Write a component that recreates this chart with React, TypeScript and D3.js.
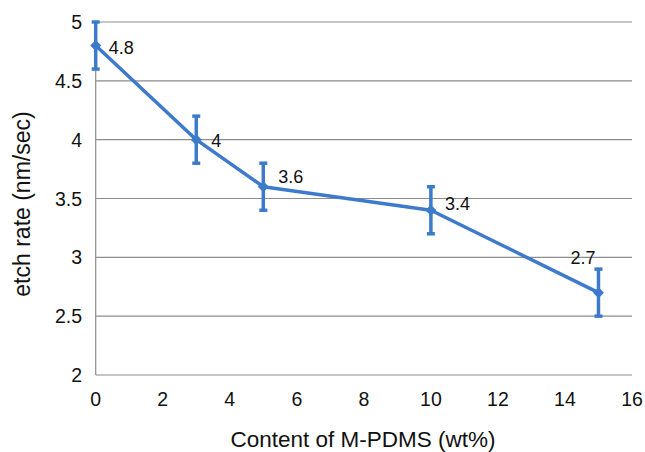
import React from "react";
import * as d3 from "d3";

const xValues = [0, 3, 5, 10, 15];
const yValues = [4.8, 4.0, 3.6, 3.4, 2.7];
const errValues = [0.2, 0.2, 0.2, 0.2, 0.2];
const pointLabels = ["4.8", "4", "3.6", "3.4", "2.7"];
const xTicks = [0, 2, 4, 6, 8, 10, 12, 14, 16];
const yTicks = [2, 2.5, 3, 3.5, 4, 4.5, 5];

const labelOffsets: [number, number][] = [
  [13, 8],
  [15, 7.5],
  [15, -4],
  [14, 0],
  [-28, -29],
];

export default function App() {
  const W = 645, H = 452;
  const left = 95.7, right = 632, top = 22, bottom = 375;
  const x = d3.scaleLinear().domain([0, 16]).range([left, right]);
  const y = d3.scaleLinear().domain([2, 5]).range([bottom, top]);
  const color = "#3d7acb";
  const font = "'Liberation Sans', Arial, sans-serif";
  const line = d3
    .line<number>()
    .x((_, i) => x(xValues[i]))
    .y((d) => y(d));
  return (
    <svg width={W} height={H} style={{ position: "absolute", left: 0, top: 0 }}>
      <rect width={W} height={H} fill="#fff" />
      {yTicks.map((t) => (
        <g key={t}>
          {t > 2 && (
            <line x1={left} x2={right} y1={y(t)} y2={y(t)} stroke="#8c8c8c" strokeWidth={1.2} />
          )}
          <text x={82} y={y(t) + 7} textAnchor="end" fontFamily={font} fontSize={19.5} fill="#111">
            {t}
          </text>
        </g>
      ))}
      <line x1={left} x2={left} y1={top} y2={bottom} stroke="#8c8c8c" strokeWidth={1.2} />
      <line x1={left} x2={right} y1={bottom} y2={bottom} stroke="#8c8c8c" strokeWidth={1.2} />
      {xTicks.map((t) => (
        <text key={t} x={x(t)} y={406} textAnchor="middle" fontFamily={font} fontSize={19.5} fill="#111">
          {t}
        </text>
      ))}
      <text x={363} y={447} textAnchor="middle" fontFamily={font} fontSize={22.5} fill="#111">
        Content of M-PDMS (wt%)
      </text>
      <text
        transform={`translate(30,204) rotate(-90)`}
        textAnchor="middle"
        fontFamily={font}
        fontSize={23}
        fill="#111"
      >
        etch rate (nm/sec)
      </text>
      {xValues.map((xv, i) => {
        const cx = x(xv);
        return (
          <g key={i}>
            <line x1={cx} x2={cx} y1={y(yValues[i] - errValues[i])} y2={y(yValues[i] + errValues[i])} stroke={color} strokeWidth={3.5} />
            <line x1={cx - 4} x2={cx + 4} y1={y(yValues[i] + errValues[i])} y2={y(yValues[i] + errValues[i])} stroke={color} strokeWidth={3.5} />
            <line x1={cx - 4} x2={cx + 4} y1={y(yValues[i] - errValues[i])} y2={y(yValues[i] - errValues[i])} stroke={color} strokeWidth={3.5} />
          </g>
        );
      })}
      <path d={line(yValues) || ""} fill="none" stroke={color} strokeWidth={3.5} strokeLinejoin="round" />
      {xValues.map((xv, i) => {
        const cx = x(xv), cy = y(yValues[i]);
        return (
          <path key={i} d={`M${cx},${cy - 5.5}L${cx + 5.5},${cy}L${cx},${cy + 5.5}L${cx - 5.5},${cy}Z`} fill={color} />
        );
      })}
      {xValues.map((xv, i) => (
        <text
          key={i}
          x={x(xv) + labelOffsets[i][0]}
          y={y(yValues[i]) + labelOffsets[i][1]}
          fontFamily={font}
          fontSize={18}
          fill="#111"
        >
          {pointLabels[i]}
        </text>
      ))}
    </svg>
  );
}
